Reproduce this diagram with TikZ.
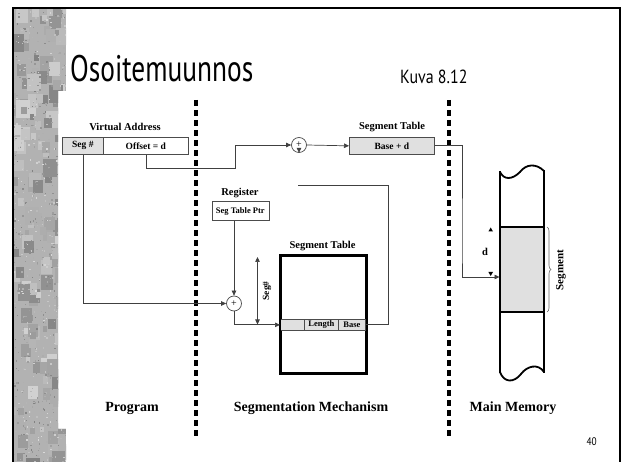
\documentclass[tikz,border=0pt]{standalone}
\usepackage{fontspec}
\setmainfont{Liberation Serif}
\newfontfamily\ptsans{PT Sans}
\usetikzlibrary{arrows.meta,decorations.pathreplacing}
\begin{document}
\begin{tikzpicture}[x=1pt,y=-1pt,
  arr/.style={-{Triangle[length=5pt,width=4.5pt]}},
  wire/.style={draw=black!75,line width=0.7pt},
  lbl/.style={font=\fontsize{10.5}{11}\selectfont\bfseries},
  cell/.style={draw=black!70,line width=0.7pt,minimum height=17pt,inner sep=0pt,font=\fontsize{9.5}{10}\selectfont\bfseries},
  adder/.style={circle,draw=black!70,line width=0.7pt,minimum size=15pt,inner sep=0pt,font=\fontsize{10}{10}\selectfont},
  divider/.style={line width=3.2pt,dash pattern=on 6pt off 4pt},
  big/.style={font=\fontsize{14}{14}\selectfont\bfseries}]
\useasboundingbox (0,0) rectangle (622,462);
\fill[white] (0,0) rectangle (622,462);
% textured strip
\begin{scope}
\clip (14,9) -- (66,9) -- (66,91) -- (58,91) -- (58,429) -- (66,429) -- (66,462) -- (14,462) -- cycle;
\fill[black!30] (14,9) rectangle (66,462);
\pgfmathsetseed{11}
\foreach \i in {1,...,160}{
  \pgfmathsetmacro\rx{10+58*rnd}
  \pgfmathsetmacro\ry{5+460*rnd}
  \pgfmathtruncatemacro\rg{18+32*rnd}
  \pgfmathsetmacro\rs{4+10*rnd}
  \fill[black!\rg] (\rx,\ry) rectangle ++(\rs,1.3*\rs);
}
\foreach \i in {1,...,700}{
  \pgfmathsetmacro\rx{12+56*rnd}
  \pgfmathsetmacro\ry{7+457*rnd}
  \pgfmathtruncatemacro\rg{15+35*rnd}
  \fill[black!\rg] (\rx,\ry) rectangle ++(1.4,1.4);
}
\end{scope}
% frame
\draw[line width=2pt] (13,462) -- (13,8) -- (620,8) -- (620,462);
% titles
\node[anchor=base west,inner sep=0pt,font=\fontsize{37}{37}\selectfont\ptsans] (title) at (70,82) {\scalebox{0.74}[1]{Osoitemuunnos}};
\node[anchor=base west,inner sep=0pt,font=\fontsize{19}{19}\selectfont\ptsans] (kuva) at (400,84) {\scalebox{0.84}[1]{Kuva 8.12}};
\node[anchor=base east,inner sep=0pt,font=\fontsize{11}{11}\selectfont\ptsans] (page) at (597,446) {\scalebox{0.85}[1]{40}};
% dividers
\draw[divider] (196,100) -- (196,436);
\draw[divider] (449,100) -- (449,436);
% virtual address
\node[lbl] (valbl) at (125,127) {Virtual Address};
\node[cell,fill=black!12,minimum width=41pt,anchor=north west] (seg) at (62,137) {Seg \#};
\node[cell,minimum width=85pt,anchor=north west] (off) at (103,137) {Offset = d};
% top adder and base+d
\node[adder] (add1) at (299,145) {+};
\node[lbl] (stlbl1) at (392,127) {Segment Table};
\node[cell,fill=black!12,minimum width=85pt,anchor=north west] (bd) at (349,137) {Base + d};
% register
\node[lbl] (reglbl) at (240,193) {Register};
\node[cell,minimum width=57pt,minimum height=19pt,anchor=north west,font=\fontsize{8.5}{9}\selectfont\bfseries] (reg) at (211.5,201.5) {Seg Table Ptr};
% lower adder
\node[adder] (add2) at (234,303.5) {+};
% segment table
\node[lbl] (stlbl2) at (322.5,246) {Segment Table};
\node[draw=black,line width=1.8pt,minimum width=85pt,minimum height=117pt,anchor=north west,inner sep=0pt] (st) at (280,255) {};
\node[cell,fill=black!12,minimum width=24pt,minimum height=11pt,anchor=north west] (c0) at (280,319) {};
\node[cell,fill=black!12,minimum width=34pt,minimum height=11pt,anchor=north west,font=\fontsize{8.5}{9}\selectfont\bfseries] (len) at (304,319) {Length};
\node[cell,fill=black!12,minimum width=27pt,minimum height=11pt,anchor=north west,font=\fontsize{8.5}{9}\selectfont\bfseries] (base) at (338,319) {Base};
\draw[draw=black,line width=1.8pt] (st.north west) rectangle (st.south east);
% seg# extent arrow
\coordinate (sgt) at (257.5,257);
\coordinate (sgb) at (257.5,324.5);
\draw[wire,{Triangle[length=5pt,width=4.5pt]}-{Triangle[length=5pt,width=4.5pt]}] (sgt) -- (sgb);
\node[lbl,rotate=90,font=\fontsize{9.5}{10}\selectfont\bfseries] (seglbl) at (267,291) {Seg\#};
% main memory
\fill[black!12] (500,227) rectangle (544,312);
\draw[line width=1.8pt] (500,172) .. controls (504,180) and (512,180) .. (520,172) .. controls (526,164) and (536,163) .. (544,171);
\draw[line width=1.8pt] (500,372) .. controls (504,383) and (514,383) .. (521,374) .. controls (527,366) and (538,363) .. (544,372);
\draw[line width=1.8pt] (500,171) -- (500,373);
\draw[line width=1.8pt] (544,170) -- (544,373);
\draw[line width=1.6pt] (500,227) -- (544,227);
\draw[line width=1.6pt] (500,312) -- (544,312);
\coordinate (memin) at (499.5,277);
\draw[draw=black!60,line width=0.6pt,decorate,decoration={brace,amplitude=4pt}] (547,227) -- (547,312);
\node[lbl,rotate=90,font=\fontsize{11}{11}\selectfont\bfseries] (seglab) at (561,270) {Segment};
\node[lbl] (dlbl) at (485,252) {d};
\fill (490.7,227.5) -- (493,231.5) -- (488.4,231.5) -- cycle;
\fill (490.7,276) -- (493,272) -- (488.4,272) -- cycle;
% connectors
\draw[wire,arr] (off.south) |- (235.7,168.3) |- (add1.west);
\draw[wire,arr] (add1.east) -- (bd.west);
\draw[wire,arr] ([yshift=5pt]add1.south) -- (add1.south);
\draw[wire,arr] (bd.east) -| (462,250) |- (memin);
\draw[wire,arr] (seg.south) |- (add2.west);
\draw[wire,arr] (reg.south -| add2.north) -- (add2.north);
\draw[wire,arr] (add2.south) |- (c0.west);
\coordinate (loopend) at (298.3,185.7);
\draw[wire] (base.east) -| (388.3,250) |- (loopend);
% bottom labels
\node[big] (prog) at (132,408) {Program};
\node[big] (segm) at (311,408) {Segmentation Mechanism};
\node[big] (mainm) at (513,408) {Main Memory};
\end{tikzpicture}
\end{document}
